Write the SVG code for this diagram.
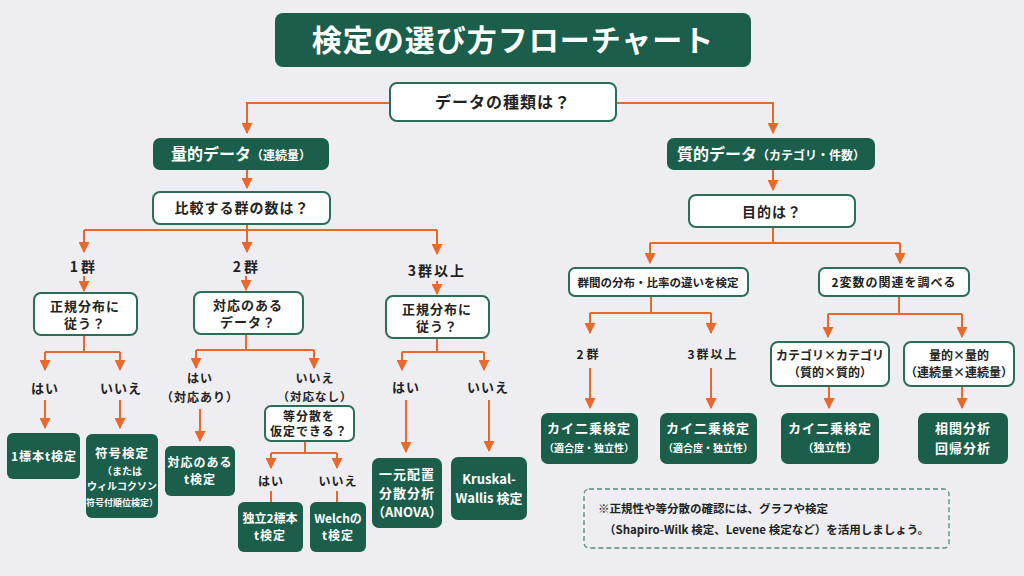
<svg xmlns="http://www.w3.org/2000/svg" width="1024" height="576" viewBox="0 0 1024 576">
<style>
text{font-family:"Noto Sans CJK JP","Noto Sans",sans-serif;font-weight:700;text-anchor:middle;}
.dk{fill:#1b5e4b;}
.wt{fill:#ffffff;stroke:#2a6e58;stroke-width:2;}
.t{fill:#222;font-size:13px;letter-spacing:1px;}
.tw{fill:#fff;font-size:13px;letter-spacing:1px;}
.ts{fill:#fff;font-size:10px;}
.lb{fill:#222;font-size:13px;letter-spacing:1px;}
.c{fill:none;stroke:#e8692a;stroke-width:2;}
.a{marker-end:url(#ah);}
</style>
<defs>
<marker id="ah" viewBox="0 0 10 10" refX="9" refY="5" markerWidth="11" markerHeight="11" markerUnits="userSpaceOnUse" orient="auto">
<path d="M0,0 L10,5 L0,10 z" fill="#e8692a"/>
</marker>
</defs>
<rect width="1024" height="576" fill="#eeeef2"/>

<g id="connectors">
<path class="c a" d="M390,103 H247 V133"/>
<path class="c a" d="M616,103 H773 V133"/>
<path class="c a" d="M247,170 V188"/>
<path class="c a" d="M773,170 V190"/>
<path class="c" d="M247,224 V230 M84,230 H437"/>
<path class="c a" d="M84,230 V252"/>
<path class="c a" d="M247,230 V252"/>
<path class="c a" d="M437,230 V254"/>
<path class="c a" d="M84,276 V291"/>
<path class="c a" d="M246,276 V290"/>
<path class="c a" d="M437,281 V294"/>
<path class="c" d="M84,335 V352 M45,352 H120"/>
<path class="c a" d="M45,352 V370"/>
<path class="c a" d="M120,352 V370"/>
<path class="c a" d="M45,400 V428"/>
<path class="c a" d="M120,400 V428"/>
<path class="c" d="M246,334 V350 M196,350 H314"/>
<path class="c a" d="M196,350 V368"/>
<path class="c a" d="M314,350 V368"/>
<path class="c a" d="M200,409 V441"/>
<path class="c" d="M305,441 V453 M271,453 H337"/>
<path class="c a" d="M271,453 V468"/>
<path class="c a" d="M337,453 V468"/>
<path class="c" d="M271,491 V502 M337,491 V502"/>
<path class="c" d="M437,338 V352 M402,352 H484"/>
<path class="c a" d="M402,352 V370"/>
<path class="c a" d="M484,352 V370"/>
<path class="c a" d="M406,400 V452"/>
<path class="c a" d="M489,400 V451"/>
<path class="c" d="M773,227 V243 M650,243 H900"/>
<path class="c a" d="M650,243 V263"/>
<path class="c a" d="M900,243 V263"/>
<path class="c" d="M651,296 V313 M590,313 H711"/>
<path class="c a" d="M590,313 V333"/>
<path class="c a" d="M711,313 V333"/>
<path class="c a" d="M590,368 V408"/>
<path class="c a" d="M711,368 V408"/>
<path class="c" d="M899,296 V314 M828,314 H962"/>
<path class="c a" d="M828,314 V337"/>
<path class="c a" d="M962,314 V337"/>
<path class="c a" d="M829,386 V408"/>
<path class="c a" d="M962,386 V408"/>
</g>

<g id="title">
<rect x="275" y="13" width="476" height="54" rx="8" class="dk"/>
<text x="513" y="51" style="fill:#fff;font-size:30px;letter-spacing:1px">検定の選び方フローチャート</text>
</g>

<g id="q-type">
<rect x="390" y="83" width="226" height="38" rx="7" class="wt"/>
<text x="503" y="108" style="fill:#222;font-size:16px;letter-spacing:1px">データの種類は？</text>
</g>

<g id="quant">
<rect x="153" y="138" width="176" height="32" rx="7" class="dk"/>
<text x="241" y="160" style="fill:#fff;font-size:16px"><tspan>量的データ</tspan><tspan style="font-size:12px">（連続量）</tspan></text>
</g>

<g id="qual">
<rect x="667" y="138" width="208" height="32" rx="7" class="dk"/>
<text x="771" y="160" style="fill:#fff;font-size:16px"><tspan>質的データ</tspan><tspan style="font-size:12px">（カテゴリ・件数）</tspan></text>
</g>

<g id="q-groups">
<rect x="153" y="192" width="177" height="32" rx="7" class="wt"/>
<text x="242" y="213" class="t" style="font-size:14px">比較する群の数は？</text>
</g>

<g id="q-purpose">
<rect x="689" y="195" width="166" height="32" rx="7" class="wt"/>
<text x="772" y="217" class="t" style="font-size:14px">目的は？</text>
</g>

<g id="lbl-1g"><text x="84" y="272" class="lb" style="font-size:14px;letter-spacing:3px">1群</text></g>
<g id="lbl-2g"><text x="247" y="272" class="lb" style="font-size:14px;letter-spacing:3px">2群</text></g>
<g id="lbl-3g"><text x="437" y="276" class="lb" style="font-size:14px;letter-spacing:2px">3群以上</text></g>

<g id="q-norm1">
<rect x="34" y="293" width="103" height="42" rx="7" class="wt"/>
<text x="85" y="311" class="t">正規分布に</text>
<text x="85" y="328" class="t">従う？</text>
</g>

<g id="q-paired">
<rect x="194" y="292" width="109" height="42" rx="7" class="wt"/>
<text x="248" y="310" class="t">対応のある</text>
<text x="248" y="327" class="t">データ？</text>
</g>

<g id="q-norm3">
<rect x="386" y="296" width="103" height="42" rx="7" class="wt"/>
<text x="437" y="314" class="t">正規分布に</text>
<text x="437" y="331" class="t">従う？</text>
</g>

<g id="lbl-yes1"><text x="45" y="393" class="lb">はい</text></g>
<g id="lbl-no1"><text x="121" y="393" class="lb">いいえ</text></g>
<g id="lbl-yes2"><text x="200" y="383" class="lb" style="font-size:12px">はい</text><text x="200" y="402" class="lb" style="font-size:12px">（対応あり）</text></g>
<g id="lbl-no2"><text x="315" y="383" class="lb" style="font-size:12px">いいえ</text><text x="315" y="401" class="lb" style="font-size:11.5px">（対応なし）</text></g>
<g id="lbl-yes3"><text x="406" y="392" class="lb">はい</text></g>
<g id="lbl-no3"><text x="488" y="392" class="lb">いいえ</text></g>
<g id="lbl-yes4"><text x="271" y="486" class="lb" style="font-size:12px">はい</text></g>
<g id="lbl-no4"><text x="338" y="486" class="lb" style="font-size:12px">いいえ</text></g>

<g id="q-eqvar">
<rect x="265" y="406" width="89" height="35" rx="6" class="wt"/>
<text x="309" y="421" class="t" style="font-size:12px">等分散を</text>
<text x="309" y="436" class="t" style="font-size:12px">仮定できる？</text>
</g>

<g id="r-1sample">
<rect x="7" y="433" width="73" height="46" rx="6" class="dk"/>
<text x="44" y="461" class="tw" style="font-size:12px">1標本t検定</text>
</g>

<g id="r-sign">
<rect x="86" y="434" width="72" height="84" rx="6" class="dk"/>
<text x="122" y="458" class="tw" style="font-size:12.5px">符号検定</text>
<text x="122" y="475" class="ts">（または</text>
<text x="122" y="490" class="ts">ウィルコクソン</text>
<text x="122" y="506" class="ts" style="font-size:9px">符号付順位検定）</text>
</g>

<g id="r-paired">
<rect x="165" y="446" width="70" height="50" rx="6" class="dk"/>
<text x="200" y="467" class="tw" style="font-size:12px">対応のある</text>
<text x="200" y="484" class="tw" style="font-size:12px">t検定</text>
</g>

<g id="r-indep">
<rect x="238" y="502" width="65" height="50" rx="6" class="dk"/>
<text x="270" y="523" class="tw" style="font-size:12px;letter-spacing:0">独立2標本</text>
<text x="270" y="540" class="tw" style="font-size:12px">t検定</text>
</g>

<g id="r-welch">
<rect x="310" y="502" width="56" height="50" rx="6" class="dk"/>
<text x="338" y="523" class="tw" style="font-size:12px;letter-spacing:0">Welchの</text>
<text x="338" y="540" class="tw" style="font-size:12px">t検定</text>
</g>

<g id="r-anova">
<rect x="372" y="458" width="70" height="70" rx="7" class="dk"/>
<text x="407" y="479" class="tw">一元配置</text>
<text x="407" y="498" class="tw">分散分析</text>
<text x="407" y="517" class="tw" style="letter-spacing:0">（ANOVA）</text>
</g>

<g id="r-kruskal">
<rect x="451" y="457" width="76" height="63" rx="7" class="dk"/>
<text x="489" y="484" class="tw" style="letter-spacing:0">Kruskal-</text>
<text x="489" y="503" class="tw" style="letter-spacing:0">Wallis 検定</text>
</g>

<g id="q-dist">
<rect x="569" y="268" width="179" height="28" rx="6" class="wt"/>
<text x="658" y="287" class="t" style="font-size:11.5px;letter-spacing:0">群間の分布・比率の違いを検定</text>
</g>

<g id="q-rel">
<rect x="819" y="268" width="150" height="28" rx="6" class="wt"/>
<text x="894" y="287" class="t" style="font-size:12px">2変数の関連を調べる</text>
</g>

<g id="lbl-2g-r"><text x="589" y="359" class="lb" style="font-size:12px;letter-spacing:3px">2群</text></g>
<g id="lbl-3g-r"><text x="713" y="359" class="lb" style="font-size:12px;letter-spacing:2px">3群以上</text></g>

<g id="q-catcat">
<rect x="771" y="342" width="118" height="44" rx="7" class="wt"/>
<text x="830" y="360" class="t" style="font-size:12px;letter-spacing:0">カテゴリ×カテゴリ</text>
<text x="830" y="377" class="t" style="font-size:12px;letter-spacing:0">（質的×質的）</text>
</g>

<g id="q-numnum">
<rect x="904" y="342" width="110" height="44" rx="7" class="wt"/>
<text x="959" y="360" class="t" style="font-size:12px;letter-spacing:0">量的×量的</text>
<text x="959" y="377" class="t" style="font-size:12px;letter-spacing:0">（連続量×連続量）</text>
</g>

<g id="r-chi1">
<rect x="541" y="413" width="97" height="51" rx="7" class="dk"/>
<text x="589" y="433" class="tw">カイ二乗検定</text>
<text x="589" y="452" class="ts">（適合度・独立性）</text>
</g>

<g id="r-chi2">
<rect x="660" y="413" width="97" height="51" rx="7" class="dk"/>
<text x="708" y="433" class="tw">カイ二乗検定</text>
<text x="708" y="452" class="ts">（適合度・独立性）</text>
</g>

<g id="r-chi3">
<rect x="781" y="413" width="98" height="51" rx="7" class="dk"/>
<text x="830" y="433" class="tw">カイ二乗検定</text>
<text x="830" y="452" class="ts" style="font-size:11px">（独立性）</text>
</g>

<g id="r-corr">
<rect x="918" y="413" width="90" height="51" rx="7" class="dk"/>
<text x="963" y="433" class="tw">相関分析</text>
<text x="963" y="453" class="tw">回帰分析</text>
</g>

<g id="note">
<rect x="584" y="489" width="365" height="59" rx="5" fill="none" stroke="#4f8f78" stroke-width="1.3" stroke-dasharray="5,3"/>
<text x="598" y="513" style="fill:#222;font-size:11.5px;text-anchor:start">※正規性や等分散の確認には、グラフや検定</text>
<text x="604" y="534" style="fill:#222;font-size:11.5px;text-anchor:start">（Shapiro-Wilk 検定、Levene 検定など）を活用しましょう。</text>
</g>
</svg>
